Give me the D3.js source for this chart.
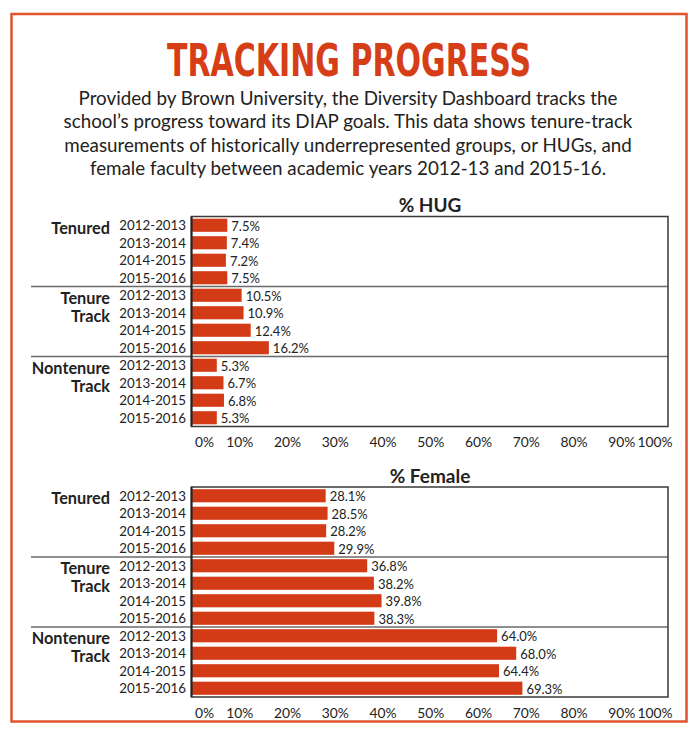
<!DOCTYPE html>
<html>
<head>
<meta charset="utf-8">
<script src="https://cdn.jsdelivr.net/npm/d3@7"></script>
<style>
  body { margin: 0; background: #fff; }
  text { font-family: Lato, "Open Sans", sans-serif; fill: #222; }
</style>
</head>
<body>
<svg id="chart" width="696" height="737"></svg>
<script>
// data
const years = ["2012-2013", "2013-2014", "2014-2015", "2015-2016"];
const groups = [["Tenured"], ["Tenure", "Track"], ["Nontenure", "Track"]];
const hugValues = [7.5, 7.4, 7.2, 7.5, 10.5, 10.9, 12.4, 16.2, 5.3, 6.7, 6.8, 5.3];
const femaleValues = [28.1, 28.5, 28.2, 29.9, 36.8, 38.2, 39.8, 38.3, 64.0, 68.0, 64.4, 69.3];
const xTicks = [0, 10, 20, 30, 40, 50, 60, 70, 80, 90, 100];
const subtitle = [
  "Provided by Brown University, the Diversity Dashboard tracks the",
  "school\u2019s progress toward its DIAP goals. This data shows tenure-track",
  "measurements of historically underrepresented groups, or HUGs, and",
  "female faculty between academic years 2012-13 and 2015-16."
];

const barColor = "#d33b16";
const svg = d3.select("#chart");

// outer frame
svg.append("rect")
  .attr("x", 11.5).attr("y", 14).attr("width", 675).attr("height", 707.5)
  .attr("fill", "none").attr("stroke", "#e2532f").attr("stroke-width", 2.5);

svg.append("text")
  .text("TRACKING PROGRESS")
  .attr("x", 167).attr("y", 76)
  .attr("textLength", 364).attr("lengthAdjust", "spacingAndGlyphs")
  .style("font-family", "'Liberation Sans Narrow', 'DejaVu Sans Condensed', sans-serif")
  .style("font-weight", "bold").style("font-size", "45px")
  .style("fill", "#d63e18");

svg.append("g").selectAll("text")
  .data(subtitle)
  .join("text")
  .text(d => d)
  .attr("x", 348).attr("y", (d, i) => 105 + i * 23.4)
  .attr("text-anchor", "middle")
  .style("font-size", "18.8px");

const x = d3.scaleLinear().domain([0, 100]).range([191.5, 669]);

function drawPanel(title, values, top) {
  const height = 210;
  const g = svg.append("g");
  const y = d3.scaleBand()
    .domain(d3.range(values.length))
    .range([top, top + height])
    .paddingInner(0.25).paddingOuter(0.125);

  g.append("text")
    .text(title)
    .attr("x", 430).attr("y", top - 4.5)
    .attr("text-anchor", "middle")
    .style("font-weight", "bold").style("font-size", "19px");

  // bars
  g.selectAll("rect.bar")
    .data(values)
    .join("rect")
    .attr("class", "bar")
    .attr("x", x(0))
    .attr("y", (d, i) => y(i))
    .attr("width", d => x(d) - x(0))
    .attr("height", y.bandwidth())
    .attr("fill", barColor);

  g.selectAll("text.val")
    .data(values)
    .join("text")
    .attr("class", "val")
    .text(d => d.toFixed(1) + "%")
    .attr("x", d => x(d) + 4)
    .attr("y", (d, i) => y(i) + y.bandwidth() / 2)
    .attr("dy", "0.42em")
    .style("font-size", "13px");

  // year labels
  g.selectAll("text.year")
    .data(values)
    .join("text")
    .attr("class", "year")
    .text((d, i) => years[i % years.length])
    .attr("x", 186)
    .attr("y", (d, i) => y(i) + y.bandwidth() / 2)
    .attr("dy", "0.38em")
    .attr("text-anchor", "end")
    .style("font-size", "13.3px");

  // group separators and labels
  const groupH = height / groups.length;
  groups.forEach((lines, gi) => {
    const gy = top + gi * groupH;
    if (gi > 0) {
      g.append("line")
        .attr("x1", 31).attr("x2", x(100) - 1)
        .attr("y1", gy).attr("y2", gy)
        .attr("stroke", "#6a6a6a").attr("stroke-width", 1.5);
    }
    lines.forEach((ln, li) => {
      g.append("text")
        .text(ln)
        .attr("x", 110).attr("y", gy + 17 + li * 18)
        .attr("text-anchor", "end")
        .style("font-weight", "bold").style("font-size", "16.3px");
    });
  });

  // box
  g.append("rect")
    .attr("x", x(0)).attr("y", top)
    .attr("width", x(100) - 1 - x(0)).attr("height", height)
    .attr("fill", "none").attr("stroke", "#3a3a3a").attr("stroke-width", 1.5);
  g.append("line")
    .attr("x1", x(0)).attr("x2", x(0))
    .attr("y1", top).attr("y2", top + height)
    .attr("stroke", "#222").attr("stroke-width", 2);

  // x axis
  const axis = g.append("g")
    .attr("transform", `translate(0,${top + height})`)
    .call(d3.axisBottom(x).tickValues(xTicks).tickSize(0).tickPadding(11)
      .tickFormat(d => d + "%"));
  axis.select(".domain").remove();
  axis.selectAll("text")
    .style("font-size", "13.8px").style("font-family", "Lato, sans-serif")
    .attr("fill", "#222");
  axis.selectAll(".tick").filter(d => d === 0).select("text")
    .attr("text-anchor", "start").attr("x", 3);
  axis.selectAll(".tick").filter(d => d === 100).select("text")
    .attr("text-anchor", "end").attr("x", 3);
}

drawPanel("% HUG", hugValues, 216.5);
drawPanel("% Female", femaleValues, 487);
</script>
</body>
</html>
